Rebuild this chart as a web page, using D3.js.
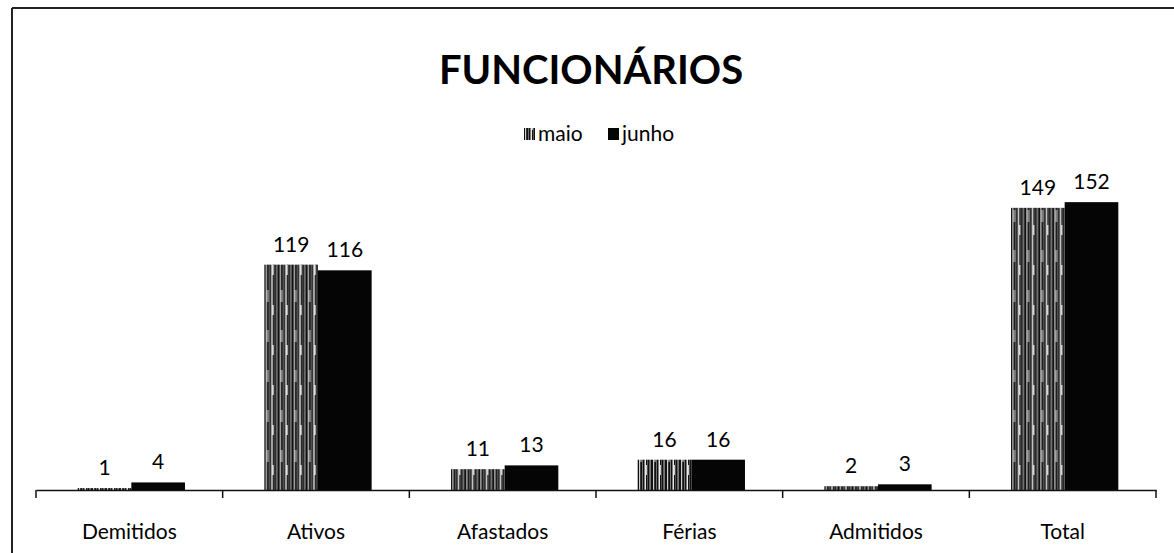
<!DOCTYPE html>
<html>
<head>
<meta charset="utf-8">
<script src="https://cdn.jsdelivr.net/npm/d3@7"></script>
<style>
  body { margin: 0; background: #fff; }
  text { font-family: Lato, "Open Sans", sans-serif; fill: #000; }
</style>
</head>
<body>
<svg width="1174" height="553"></svg>
<script>
// data
var categories = ['Demitidos', 'Ativos', 'Afastados', 'Férias', 'Admitidos', 'Total'];
var series = ['maio', 'junho'];
var maio = [1, 119, 11, 16, 2, 149];
var junho = [4, 116, 13, 16, 3, 152];

var svg = d3.select('svg');
var width = +svg.attr('width');
var height = +svg.attr('height');

// striped fill for maio
var defs = svg.append('defs');
var pat = defs.append('pattern')
  .attr('id', 'stripes')
  .attr('patternUnits', 'userSpaceOnUse')
  .attr('width', 14).attr('height', 40);
pat.append('rect').attr('width', 14).attr('height', 40).attr('fill', '#111');
[[1, 1.2, 0.8], [4, 0.8, 0.5], [6.5, 1.5, 0.9], [9, 0.7, 0.4], [11.5, 1.1, 0.7]].forEach(function(s) {
  pat.append('rect').attr('x', s[0]).attr('y', 0).attr('width', s[1]).attr('height', 40)
    .attr('fill', '#fff').attr('opacity', s[2]);
});
pat.append('rect').attr('x', 2.5).attr('y', 10).attr('width', 1).attr('height', 12).attr('fill', '#ddd');
pat.append('rect').attr('x', 8).attr('y', 25).attr('width', 1).attr('height', 10).attr('fill', '#ccc');

var fills = { maio: 'url(#stripes)', junho: '#050505' };

// frame
svg.append('line').attr('x1', 12).attr('x2', 12).attr('y1', 8).attr('y2', height)
  .attr('stroke', '#222').attr('stroke-width', 2);
svg.append('line').attr('x1', 12).attr('x2', width).attr('y1', 8).attr('y2', 8)
  .attr('stroke', '#222').attr('stroke-width', 2);

// title
svg.append('text')
  .attr('x', 591).attr('y', 84)
  .attr('text-anchor', 'middle')
  .style('font-size', '40px').style('font-weight', 'bold')
  .text('FUNCIONÁRIOS');

// legend
var legend = svg.append('g').attr('transform', 'translate(524,135)');
var legendX = [0, 84];
series.forEach(function(s, i) {
  var g = legend.append('g').attr('transform', 'translate(' + legendX[i] + ',0)');
  g.append('rect').attr('x', 0).attr('y', -7).attr('width', 11).attr('height', 12).attr('fill', fills[s]);
  g.append('text').attr('x', 14).attr('y', 6).style('font-size', '21px').text(s);
});

// scales
var x0 = d3.scaleBand().domain(categories).range([36, 1156]).paddingInner(0).paddingOuter(0);
var x1 = d3.scaleBand().domain(series).range([2, x0.bandwidth() + 2]).paddingOuter(0.74).paddingInner(0);
var y = d3.scaleLinear().domain([0, 160]).range([490, 187]);

var rows = categories.map(function(c, i) {
  return { cat: c, values: [{ s: 'maio', v: maio[i] }, { s: 'junho', v: junho[i] }] };
});

var groups = svg.selectAll('.grp').data(rows).enter().append('g')
  .attr('class', 'grp')
  .attr('transform', function(d) { return 'translate(' + x0(d.cat) + ',0)'; });

groups.selectAll('rect').data(function(d) { return d.values; }).enter().append('rect')
  .attr('x', function(d) { return x1(d.s); })
  .attr('y', function(d) { return y(d.v); })
  .attr('width', x1.bandwidth())
  .attr('height', function(d) { return y(0) - y(d.v); })
  .attr('fill', function(d) { return fills[d.s]; });

groups.selectAll('.lbl').data(function(d) { return d.values; }).enter().append('text')
  .attr('class', 'lbl')
  .attr('x', function(d) { return x1(d.s) + x1.bandwidth() / 2; })
  .attr('y', function(d) { return y(d.v) - 13; })
  .attr('text-anchor', 'middle')
  .style('font-size', '21px')
  .text(function(d) { return d.v; });

// x axis
var axis = d3.axisBottom(x0).tickSize(0).tickPadding(0);
var ax = svg.append('g').attr('transform', 'translate(0,490)').call(axis);
ax.select('.domain').attr('stroke', '#111').attr('stroke-width', 1.5);
ax.selectAll('.tick text').attr('y', 34).style('font-size', '21px')
  .style('font-family', 'Lato, "Open Sans", sans-serif').attr('fill', '#000');
// category boundary ticks
var bounds = categories.map(function(c) { return x0(c); }).concat([x0.range()[1]]);
svg.selectAll('.bt').data(bounds).enter().append('line')
  .attr('x1', function(d) { return d; }).attr('x2', function(d) { return d; })
  .attr('y1', 490).attr('y2', 498)
  .attr('stroke', '#111').attr('stroke-width', 1.5);
</script>
</body>
</html>
